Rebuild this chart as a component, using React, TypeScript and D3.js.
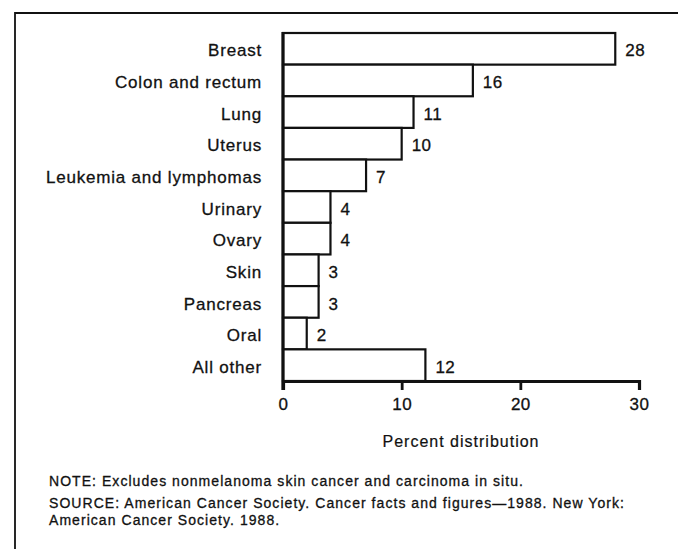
import React, { useEffect, useRef } from "react";
import * as d3 from "d3";

const categories = [
  "Breast",
  "Colon and rectum",
  "Lung",
  "Uterus",
  "Leukemia and lymphomas",
  "Urinary",
  "Ovary",
  "Skin",
  "Pancreas",
  "Oral",
  "All other",
];
const percents = [28, 16, 11, 10, 7, 4, 4, 3, 3, 2, 12];
const xTicks = [0, 10, 20, 30];
const axisTitle = "Percent distribution";
const noteLines = [
  "NOTE:  Excludes nonmelanoma skin cancer and carcinoma in situ.",
  "SOURCE:  American Cancer Society. Cancer facts and figures\u20141988. New York:",
  "American Cancer Society. 1988.",
];

const App = () => {
  const svgRef = useRef<SVGSVGElement>(null);

  useEffect(() => {
    const W = 678;
    const H = 549;
    const svg = d3.select(svgRef.current);
    svg.selectAll("*").remove();
    svg.attr("width", W).attr("height", H);

    const font = "'Liberation Sans', Arial, Helvetica, sans-serif";
    const ink = "#111";
    const left = 283;
    const right = 639;
    const top = 33;
    const bottom = 381;

    const x = d3.scaleLinear().domain([0, 30]).range([left, right]);
    const y = d3.scaleBand().domain(categories).range([top, bottom]).padding(0);

    svg.append("rect").attr("width", W).attr("height", H).attr("fill", "#fff");

    // frame, open on the right and bottom like the scan
    svg.append("path")
      .attr("d", `M15,${H} L15,13 L${W},13`)
      .attr("fill", "none")
      .attr("stroke", ink)
      .attr("stroke-width", 1.8);

    const data = categories.map((c, i) => ({ c, v: percents[i] }));

    svg.selectAll(".bar")
      .data(data)
      .enter()
      .append("rect")
      .attr("class", "bar")
      .attr("x", x(0))
      .attr("y", d => y(d.c)!)
      .attr("width", d => x(d.v) - x(0))
      .attr("height", y.bandwidth())
      .attr("fill", "#fff")
      .attr("stroke", ink)
      .attr("stroke-width", 2.2);

    // category labels
    svg.selectAll(".cat")
      .data(data)
      .enter()
      .append("text")
      .attr("x", 262)
      .attr("y", d => y(d.c)! + y.bandwidth() / 2)
      .attr("dy", "0.45em")
      .attr("text-anchor", "end")
      .style("font-family", font)
      .style("font-size", "17px")
      .style("letter-spacing", "0.8px")
      .attr("fill", ink)
      .attr("stroke", ink)
      .attr("stroke-width", 0.3)
      .text(d => d.c);

    // value labels
    svg.selectAll(".val")
      .data(data)
      .enter()
      .append("text")
      .attr("x", d => x(d.v) + 10)
      .attr("y", d => y(d.c)! + y.bandwidth() / 2)
      .attr("dy", "0.45em")
      .style("font-family", font)
      .style("font-size", "17px")
      .style("letter-spacing", "0.5px")
      .attr("fill", ink)
      .attr("stroke", ink)
      .attr("stroke-width", 0.3)
      .text(d => d.v);

    // left axis line
    svg.append("line")
      .attr("x1", x(0)).attr("x2", x(0))
      .attr("y1", top - 1).attr("y2", bottom + 9)
      .attr("stroke", ink).attr("stroke-width", 3.2);

    // x axis
    const axis = svg.append("g")
      .attr("transform", `translate(0,${bottom})`)
      .call(d3.axisBottom(x).tickValues(xTicks).tickSize(9).tickPadding(8));
    axis.select(".domain").attr("stroke", ink).attr("stroke-width", 3.2);
    axis.selectAll(".tick line").attr("stroke", ink).attr("stroke-width", 2.8);
    axis.selectAll("text")
      .style("font-family", font)
      .style("font-size", "17px")
      .style("letter-spacing", "0.5px")
      .attr("fill", ink)
      .attr("stroke", ink)
      .attr("stroke-width", 0.3);

    svg.append("text")
      .attr("x", 461)
      .attr("y", 447)
      .attr("text-anchor", "middle")
      .style("font-family", font)
      .style("font-size", "16px")
      .style("letter-spacing", "1px")
      .attr("fill", ink)
      .attr("stroke", ink)
      .attr("stroke-width", 0.2)
      .text(axisTitle);

    const noteY = [486, 508, 525];
    svg.selectAll(".note")
      .data(noteLines)
      .enter()
      .append("text")
      .attr("x", 49)
      .attr("y", (d, i) => noteY[i])
      .style("font-family", font)
      .style("font-size", "14px")
      .style("letter-spacing", "1.05px")
      .attr("fill", ink)
      .attr("stroke", ink)
      .attr("stroke-width", 0.3)
      .text(d => d);
  }, []);

  return (
    <div style={{ position: "fixed", left: 0, top: 0 }}>
      <svg ref={svgRef} style={{ display: "block" }}></svg>
    </div>
  );
};

export default App;
